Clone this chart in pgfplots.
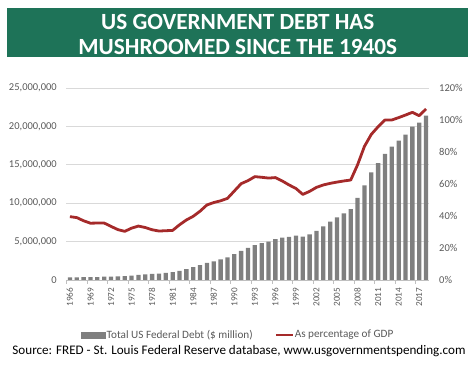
\documentclass[border=0pt]{standalone}
\usepackage{fontspec}
\setmainfont{Carlito}
\usepackage{pgfplots}
\usepackage{pgfplotstable}
\pgfplotsset{compat=1.18}
\definecolor{titlegreen}{RGB}{30,115,88}
\definecolor{barcol}{RGB}{127,127,127}
\definecolor{linecol}{RGB}{165,42,42}
\definecolor{tickcol}{RGB}{89,89,89}
\definecolor{gridcol}{RGB}{217,217,217}
\definecolor{axiscol}{RGB}{191,191,191}

\pgfplotstableread{
year debt pct
1966 329000 39.6
1967 344000 39.0
1968 358000 37.0
1969 368000 35.5
1970 389000 35.6
1971 424000 35.6
1972 449000 33.5
1973 470000 31.5
1974 493000 30.4
1975 577000 32.4
1976 654000 33.7
1977 719000 32.8
1978 789000 31.4
1979 845000 30.6
1980 930000 30.8
1981 1029000 31.0
1982 1197000 34.5
1983 1411000 37.5
1984 1663000 39.8
1985 1946000 43.0
1986 2215000 46.9
1987 2432000 48.4
1988 2684000 49.5
1989 2953000 51.0
1990 3365000 55.6
1991 3802000 60.2
1992 4177000 62.1
1993 4536000 64.6
1994 4800000 64.2
1995 4989000 63.7
1996 5323000 64.0
1997 5502000 61.9
1998 5614000 59.4
1999 5776000 57.2
2000 5662000 53.5
2001 5943000 55.4
2002 6406000 57.9
2003 6998000 59.4
2004 7596000 60.4
2005 8170000 61.2
2006 8680000 61.9
2007 9229000 62.5
2008 10700000 72.0
2009 12311000 83.5
2010 14025000 91.0
2011 15223000 95.8
2012 16433000 100.0
2013 17352000 100.0
2014 18141000 101.5
2015 18922000 103.1
2016 19977000 104.8
2017 20493000 102.7
2018 21400000 106.9
}\debtdata

\begin{document}
\begin{tikzpicture}
\useasboundingbox (0pt,0pt) rectangle (475pt,369pt);
\fill[titlegreen] (7.3pt,311.5pt) rectangle (468.3pt,361pt);
\node[text=white, font=\fontsize{23.2}{25}\selectfont\bfseries, align=center, inner sep=0pt] at (237.8pt,334.5pt) {US GOVERNMENT DEBT HAS\\MUSHROOMED SINCE THE 1940S};

\begin{axis}[
  at={(66.5pt,89pt)}, anchor=south west,
  scale only axis, width=363pt, height=192pt,
  xmin=1965.5, xmax=2018.5,
  ymin=0, ymax=25000000,
  scaled y ticks=false,
  axis lines*=left,
  axis line style={draw=none},
  x axis line style={draw=axiscol, line width=0.8pt},
  ymajorgrids, major grid style={gridcol, line width=0.8pt},
  ytick={0,5000000,10000000,15000000,20000000,25000000},
  yticklabels={0,{5,000,000},{10,000,000},{15,000,000},{20,000,000},{25,000,000}},
  xtick={1966,1969,1972,1975,1978,1981,1984,1987,1990,1993,1996,1999,2002,2005,2008,2011,2014,2017},
  xticklabels={1966,1969,1972,1975,1978,1981,1984,1987,1990,1993,1996,1999,2002,2005,2008,2011,2014,2017},
  minor xtick={1965.5,1968.5,1971.5,1974.5,1977.5,1980.5,1983.5,1986.5,1989.5,1992.5,1995.5,1998.5,2001.5,2004.5,2007.5,2010.5,2013.5,2016.5},
  major tick length=0pt, minor tick length=4pt,
  tick align=outside,
  minor tick style={draw=axiscol, line width=0.8pt},
  yticklabel style={font=\fontsize{10.5}{12}\selectfont, text=tickcol, inner sep=0pt},
  yticklabel shift=9.5pt,
  xticklabel style={rotate=90, anchor=east, font=\fontsize{9.2}{10}\selectfont, text=tickcol, inner sep=0pt},
  xticklabel shift=7.5pt,
  clip=false,
]
\addplot[ybar, bar width=4.3pt, fill=barcol, draw=none] table[x=year, y=debt] {\debtdata};
\end{axis}

\begin{axis}[
  at={(66.5pt,89pt)}, anchor=south west,
  scale only axis, width=363pt, height=192pt,
  xmin=1965.5, xmax=2018.5,
  ymin=0, ymax=120,
  axis x line=none,
  axis y line*=right,
  y axis line style={draw=none},
  ytick={0,20,40,60,80,100,120},
  yticklabels={0\%,20\%,40\%,60\%,80\%,100\%,120\%},
  major tick length=0pt,
  yticklabel style={font=\fontsize{10.5}{12}\selectfont, text=tickcol, inner sep=0pt},
  yticklabel shift=9.5pt,
  legend style={at={(0.472,-0.286)}, anchor=center, draw=none, fill=none,
    font=\fontsize{11.2}{13}\selectfont, text=tickcol, legend columns=2,
    nodes={inner sep=1pt},
    /tikz/every even column/.append style={column sep=21pt}},
  legend cell align=left,
  clip=false,
]
\addlegendimage{legend image code/.code={\fill[barcol] (0pt,-3.2pt) rectangle (24pt,3.2pt);}}
\addlegendentry{Total US Federal Debt (\$ million)}
\addplot[linecol, line width=2.8pt, line join=round, mark=none,
  legend image code/.code={\draw[linecol, line width=2pt] (0pt,0pt) -- (17pt,0pt);}]
  table[x=year, y=pct] {\debtdata};
\addlegendentry{As percentage of GDP}
\end{axis}

\node[font=\fontsize{13.1}{15}\selectfont, text=black] at (239pt,18pt) {Source: FRED - St. Louis Federal Reserve database, www.usgovernmentspending.com};
\end{tikzpicture}
\end{document}
